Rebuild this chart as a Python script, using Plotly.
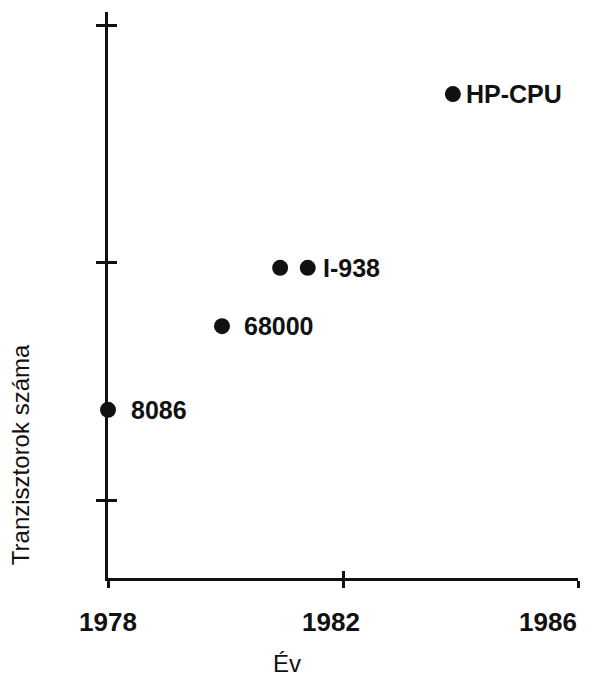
import math
import plotly.graph_objects as go

# Data (y axis is logarithmic, unlabelled)
years = [1978.0, 1979.94, 1980.93, 1981.40, 1983.87]
transistors = [24000, 54000, 95000, 95000, 512000]
point_labels = ["8086", "68000", "", "I-938", "HP-CPU"]
label_gap = [13, 12, 0, 5, 3]

x_tick_vals = [1978, 1982, 1986]
x_tick_labels = ["1978", "1982", "1986"]
x_label_shift = [0, -12, -30]
y_tick_vals = [1e4, 1e5, 1e6]

x_title = "Év"
y_title = "Tranzisztorok száma"

FONT = "Liberation Sans, Arial, sans-serif"
BLACK = "#111111"

fig = go.Figure()
fig.add_trace(go.Scatter(
    x=years, y=transistors, mode="markers",
    marker=dict(size=16, color=BLACK),
    hoverinfo="skip", showlegend=False, cliponaxis=False,
))
# invisible copy on overlay axes (gives ticks on the other side of the lines)
fig.add_trace(go.Scatter(
    x=years, y=transistors, mode="markers", xaxis="x2", yaxis="y2",
    marker=dict(size=1, opacity=0), hoverinfo="skip", showlegend=False,
))

x_range = [1978, 1986]
y_range = [3.672, 6.055]

axis_common = dict(showgrid=False, zeroline=False, linecolor=BLACK, linewidth=3,
                   tickcolor=BLACK, tickwidth=3)

fig.update_layout(
    width=602, height=672,
    margin=dict(l=100, r=32, t=4, b=102),
    paper_bgcolor="white", plot_bgcolor="white",
    xaxis=dict(range=x_range, tickvals=x_tick_vals, ticks="outside", ticklen=7,
               showticklabels=False, showline=True, **axis_common),
    yaxis=dict(type="log", range=y_range, tickvals=y_tick_vals, ticks="outside",
               ticklen=9, showticklabels=False, showline=True, **axis_common),
    xaxis2=dict(range=x_range, tickvals=x_tick_vals, ticks="inside", ticklen=7,
                showticklabels=False, showline=False, overlaying="x", anchor="y",
                **axis_common),
    yaxis2=dict(type="log", range=y_range, tickvals=y_tick_vals, ticks="inside",
                ticklen=9, showticklabels=False, showline=False, overlaying="y",
                anchor="x", **axis_common),
)

annotations = []
for xv, yv, lab, gap in zip(years, transistors, point_labels, label_gap):
    if lab:
        annotations.append(dict(
            x=xv, y=math.log10(yv), xref="x", yref="y", text=lab,
            showarrow=False, xanchor="left", yanchor="middle", xshift=8 + gap,
            font=dict(family=FONT, size=25, color=BLACK, weight="bold"),
        ))
for xv, lab, sh in zip(x_tick_vals, x_tick_labels, x_label_shift):
    annotations.append(dict(
        x=xv, y=0, xref="x", yref="paper", text=lab, showarrow=False,
        xanchor="center", yanchor="middle", xshift=sh, yshift=-44,
        font=dict(family=FONT, size=26, color=BLACK, weight="bold"),
    ))
annotations.append(dict(
    x=0.381, y=0, xref="paper", yref="paper", text=x_title, showarrow=False,
    xanchor="center", yanchor="middle", yshift=-85,
    font=dict(family=FONT, size=24, color=BLACK),
))
annotations.append(dict(
    x=0, y=0.217, xref="paper", yref="paper", text=y_title, showarrow=False,
    textangle=-90, xanchor="center", yanchor="middle", xshift=-88,
    font=dict(family=FONT, size=24, color=BLACK),
))
fig.update_layout(annotations=annotations)

fig.write_html("out.html")
